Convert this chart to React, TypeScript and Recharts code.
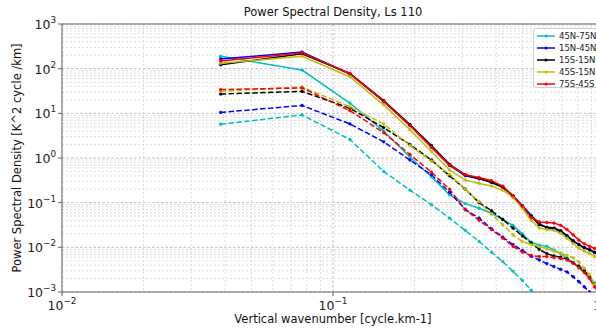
import React from 'react';
import { LineChart, Line, XAxis, YAxis, CartesianGrid, ReferenceLine } from 'recharts';

// Vertical wavenumber [cycle.km-1]
const wavenumber = [0.0385, 0.0769, 0.1154, 0.1538, 0.1923, 0.2308, 0.2692, 0.3077, 0.3462, 0.3846, 0.4231, 0.4615, 0.5, 0.5385, 0.5769, 0.6154, 0.6538, 0.6923, 0.7308, 0.7692, 0.8077, 0.8462, 0.8846, 0.9231, 0.9615];

const cyanSolid = [190, 93, 17, 4.0, 1.05, 0.38, 0.15, 0.095, 0.075, 0.058, 0.042, 0.031, 0.02, 0.013, 0.0112, 0.0105, 0.0087, 0.0072, 0.0057, 0.0046, 0.0037, 0.0029, 0.0022, 0.0016, 0.0012];
const cyanDash = [5.7, 9.2, 2.6, 0.5, 0.19, 0.09, 0.045, 0.024, 0.0135, 0.0078, 0.0048, 0.0029, 0.0018, 0.0011, 0.0007, null, null, null, null, null, null, null, null, null, null];
const blueSolid = [165, 235, 76, 18.5, 5.4, 1.75, 0.68, 0.4, 0.345, 0.29, 0.225, 0.143, 0.085, 0.052, 0.034, 0.0275, 0.026, 0.0225, 0.018, 0.014, 0.0115, 0.0098, 0.0088, 0.0076, 0.007];
const blueDash = [10.5, 15, 5.8, 2.3, 0.9, 0.42, 0.17, 0.07, 0.045, 0.026, 0.017, 0.0115, 0.0085, 0.0063, 0.0052, 0.0043, 0.0037, 0.0032, 0.0028, 0.0022, 0.0017, 0.0013, 0.001, 0.0008, null];
const blackSolid = [122, 215, 78, 19.3, 5.6, 1.9, 0.72, 0.42, 0.345, 0.283, 0.22, 0.143, 0.084, 0.049, 0.032, 0.028, 0.027, 0.0235, 0.018, 0.014, 0.0115, 0.0098, 0.0088, 0.0078, 0.007];
const blackDash = [27, 31, 13, 4.8, 2.0, 0.9, 0.4, 0.2, 0.1, 0.066, 0.042, 0.027, 0.018, 0.0125, 0.009, 0.0072, 0.0064, 0.006, 0.0055, 0.0045, 0.0038, 0.003, 0.0022, 0.0015, 0.001];
const yellowSolid = [132, 190, 66, 15.5, 4.3, 1.4, 0.54, 0.32, 0.27, 0.235, 0.19, 0.13, 0.075, 0.04, 0.027, 0.025, 0.024, 0.0205, 0.016, 0.012, 0.0095, 0.0082, 0.0072, 0.0062, 0.0056];
const yellowDash = [31, 39, 14, 5.8, 1.9, 0.85, 0.43, 0.2, 0.105, 0.055, 0.032, 0.019, 0.0134, 0.0115, 0.0104, 0.0092, 0.0082, 0.0074, 0.0066, 0.0058, 0.0047, 0.0034, 0.0024, 0.0015, 0.001];
const redSolid = [148, 225, 78, 18.5, 5.3, 1.75, 0.7, 0.42, 0.365, 0.31, 0.235, 0.143, 0.083, 0.047, 0.037, 0.036, 0.035, 0.031, 0.025, 0.019, 0.0145, 0.012, 0.0105, 0.0095, 0.0085];
const redDash = [34, 37, 11.5, 3.7, 1.2, 0.48, 0.2, 0.07, 0.04, 0.025, 0.016, 0.0105, 0.0078, 0.0066, 0.0062, 0.0062, 0.0059, 0.0056, 0.0052, 0.0044, 0.0035, 0.0027, 0.002, 0.0013, 0.0009];

const regions = ['45N-75N', '15N-45N', '15S-15N', '45S-15N', '75S-45S'];
const colors = ['#00BFBF', '#0000FF', '#000000', '#BFBF00', '#FF0000'];
const solidSeries = [cyanSolid, blueSolid, blackSolid, yellowSolid, redSolid];
const dashSeries = [cyanDash, blueDash, blackDash, yellowDash, redDash];

const yMajor = [0.001, 0.01, 0.1, 1, 10, 100, 1000];
const xMajor = [0.01, 0.1, 1];
const minorMult = [2, 3, 4, 5, 6, 7, 8, 9];

const yMinor: number[] = [];
[0.001, 0.01, 0.1, 1, 10, 100].forEach((d) => minorMult.forEach((m) => yMinor.push(d * m)));
const xMinor: number[] = [];
[0.01, 0.1].forEach((d) => minorMult.forEach((m) => xMinor.push(d * m)));

const data = wavenumber.map((x, i) => {
  const row: Record<string, number | null> = { x };
  regions.forEach((_, s) => {
    row['s' + s] = solidSeries[s][i];
    row['d' + s] = dashSeries[s][i];
  });
  return row;
});

const FONT = 'DejaVu Sans, sans-serif';

const expText = (v: number) => {
  const e = Math.round(Math.log10(v));
  return e < 0 ? '\u2212' + Math.abs(e) : String(e);
};

const YTick = (props: any) => {
  const { x, y, payload } = props;
  return (
    <text x={x} y={y + 5} textAnchor="end" fontFamily={FONT} fontSize={12.5} fill="#222">
      <tspan>10</tspan>
      <tspan dy={-6} fontSize={8.8}>{expText(payload.value)}</tspan>
    </text>
  );
};

const XTick = (props: any) => {
  const { x, y, payload } = props;
  return (
    <text x={x} y={y + 12} textAnchor="middle" fontFamily={FONT} fontSize={12.5} fill="#222">
      <tspan>10</tspan>
      <tspan dy={-6} fontSize={8.8}>{expText(payload.value)}</tspan>
    </text>
  );
};

export default function App() {
  return (
    <div style={{ position: 'fixed', left: 0, top: 0, width: 596, height: 329, overflow: 'hidden', background: '#fff' }}>
      <LineChart width={610} height={329} data={data} margin={{ top: 24, right: 6, left: 0, bottom: 0 }}>
        <CartesianGrid horizontalValues={yMinor} verticalValues={xMinor} stroke="#d4d4d4" strokeDasharray="2 2" strokeWidth={0.8} />
        <CartesianGrid horizontalValues={yMajor} verticalValues={xMajor} stroke="#b8b8b8" strokeDasharray="2.5 2" strokeWidth={0.9} />
        <XAxis
          dataKey="x"
          type="number"
          scale="log"
          domain={[0.01, 1]}
          allowDataOverflow
          ticks={xMajor}
          tick={<XTick />}
          tickSize={4}
          height={37}
          stroke="#666"
          interval={0}
        />
        <YAxis
          type="number"
          scale="log"
          domain={[0.001, 1000]}
          allowDataOverflow
          ticks={yMajor}
          tick={<YTick />}
          tickSize={4}
          width={62}
          stroke="#666"
          interval={0}
        />
        <ReferenceLine y={1000} stroke="#666" strokeWidth={1} />
        {regions.map((r, s) => [
          <Line
            key={'s' + s}
            dataKey={'s' + s}
            name={r}
            stroke={colors[s]}
            strokeWidth={1.5}
            dot={{ r: 1.4, fill: colors[s], stroke: colors[s], strokeWidth: 0.5 }}
            isAnimationActive={false}
            connectNulls={false}
          />,
          <Line
            key={'d' + s}
            dataKey={'d' + s}
            name={r + ' dashed'}
            stroke={colors[s]}
            strokeWidth={1.5}
            strokeDasharray="5.5 2.4"
            dot={{ r: 1.4, fill: colors[s], stroke: colors[s], strokeWidth: 0.5, strokeDasharray: '0' }}
            isAnimationActive={false}
            connectNulls={false}
            legendType="none"
          />,
        ])}
      </LineChart>
      <div style={{ position: 'absolute', left: 0, width: 666, top: 5, textAlign: 'center', fontFamily: FONT, fontSize: 11.5, color: '#111', whiteSpace: 'nowrap' }}>
        Power Spectral Density, Ls 110
      </div>
      <div style={{ position: 'absolute', left: 0, width: 666, top: 312, textAlign: 'center', fontFamily: FONT, fontSize: 11.5, color: '#111', whiteSpace: 'nowrap' }}>
        Vertical wavenumber [cycle.km-1]
      </div>
      <div
        style={{
          position: 'absolute',
          left: 17,
          top: 158,
          transform: 'translate(-50%, -50%) rotate(-90deg)',
          fontFamily: FONT,
          fontSize: 11.5,
          color: '#111',
          whiteSpace: 'nowrap',
        }}
      >
        Power Spectral Density [K^2 cycle /km]
      </div>
      <div
        style={{
          position: 'absolute',
          left: 533,
          top: 28,
          width: 70,
          height: 60,
          background: 'rgba(255,255,255,0.85)',
          border: '1px solid #cccccc',
          borderRadius: 3,
          boxSizing: 'border-box',
        }}
      >
        {regions.map((r, s) => (
          <div key={r} style={{ position: 'absolute', left: 2, top: 2 + s * 11.9, height: 10, display: 'flex', alignItems: 'center' }}>
            <svg width={20} height={10} style={{ display: 'block' }}>
              <line x1={1} y1={5} x2={19} y2={5} stroke={colors[s]} strokeWidth={1.5} />
              <circle cx={10} cy={5} r={1.5} fill={colors[s]} />
            </svg>
            <span style={{ marginLeft: 3, fontFamily: FONT, fontSize: 8.5, color: '#222', whiteSpace: 'nowrap' }}>{r}</span>
          </div>
        ))}
      </div>
    </div>
  );
}
